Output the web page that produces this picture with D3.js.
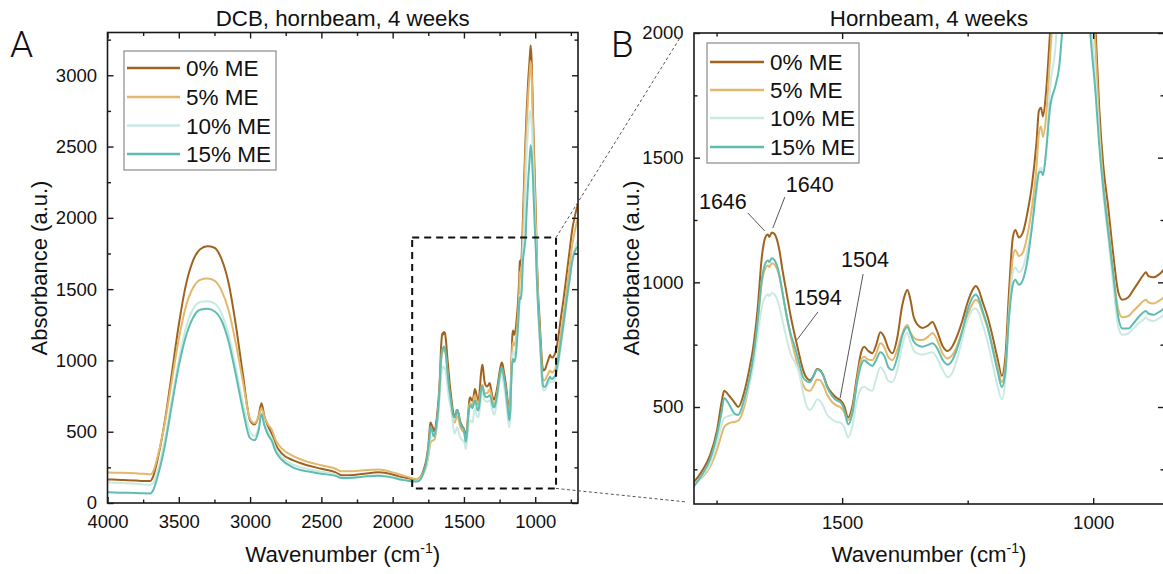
<!DOCTYPE html>
<html>
<head>
<meta charset="utf-8">
<script src="https://cdn.jsdelivr.net/npm/d3@7"></script>
<style>
  body { margin: 0; background: #fff; }
  svg { display: block; font-family: "Liberation Sans", Arial, Helvetica, sans-serif; }
</style>
</head>
<body>
<svg id="chart" width="1163" height="574"></svg>
<script>
// wavenumbers (cm-1), high region then fingerprint region
const wavenumber = [
  4000, 3900, 3800, 3750, 3700, 3680, 3650, 3600, 3550, 3500,
  3450, 3400, 3350, 3300, 3250, 3200, 3150, 3100, 3050, 3000,
  2970, 2940, 2920, 2900, 2870, 2850, 2820, 2780, 2700, 2600,
  2500, 2400, 2360, 2300, 2200, 2100, 2000, 1950, 1900, 1850, 1820,
  1795, 1780, 1763, 1749, 1740, 1735, 1725, 1715, 1707, 1695,
  1685, 1677, 1668, 1660, 1652, 1648, 1645, 1640, 1635, 1626,
  1618, 1610, 1602, 1594, 1586, 1578, 1570, 1564, 1557, 1550,
  1544, 1538, 1530, 1520, 1510, 1504, 1496, 1488, 1480, 1470,
  1462, 1456, 1448, 1440, 1432, 1424, 1416, 1408, 1400, 1390,
  1381, 1375, 1370, 1364, 1358, 1350, 1340, 1330, 1320, 1312,
  1300, 1290, 1280, 1270, 1260, 1250, 1240, 1234, 1228, 1220,
  1210, 1200, 1190, 1182, 1175, 1168, 1160, 1155, 1148, 1140,
  1130, 1122, 1113, 1108, 1104, 1100, 1094, 1086, 1075, 1068,
  1060, 1050, 1040, 1032, 1025, 1015, 1005, 995, 988, 980,
  970, 960, 950, 942, 930, 920, 910, 900, 895, 890,
  880, 870, 860, 840, 820, 800, 780, 760, 740, 720,
  700
];

const me0 = [
  165, 162, 158, 155, 155, 185, 300, 560, 900, 1250,
  1530, 1700, 1780, 1800, 1790, 1710, 1540, 1250, 900, 580,
  550, 610, 700, 610, 530, 490, 410, 350, 300, 265,
  240, 215, 195, 195, 205, 215, 200, 185, 175, 165, 170,
  200, 240, 307, 408, 520, 565, 545, 520, 500, 560,
  650, 740, 900, 1100, 1185, 1192, 1182, 1200, 1195, 1140,
  1040, 950, 860, 785, 715, 650, 615, 608, 625, 652,
  648, 630, 585, 555, 535, 528, 505, 458, 500, 630,
  720, 742, 725, 716, 750, 800, 780, 735, 716, 780,
  900, 950, 969, 930, 865, 830, 817, 825, 841, 810,
  745, 725, 745, 790, 850, 920, 970, 985, 970, 920,
  860, 780, 690, 625, 700, 950, 1180, 1210, 1180, 1200,
  1290, 1390, 1560, 1690, 1700, 1665, 1760, 2000, 2350, 2550,
  2750, 2950, 3100, 3210, 3100, 2700, 2350, 2000, 1700, 1470,
  1300, 1110, 960, 930, 940, 970, 1000, 1030, 1040, 1025,
  1020, 1030, 1050, 1150, 1300, 1440, 1600, 1760, 1920, 2020,
  2100
];

const me5 = [
  214, 212, 208, 205, 200, 220, 320, 550, 850, 1150,
  1380, 1510, 1565, 1575, 1560, 1490, 1350, 1120, 850, 590,
  560, 605, 665, 605, 545, 520, 440, 385, 330, 290,
  265, 240, 222, 222, 230, 235, 215, 200, 185, 170, 168,
  195, 215, 260, 330, 390, 420, 435, 440, 445, 500,
  590, 680, 840, 1000, 1060, 1068, 1062, 1077, 1072, 1030,
  950, 860, 780, 710, 645, 590, 568, 565, 585, 610,
  608, 590, 550, 520, 505, 500, 480, 448, 480, 610,
  690, 702, 690, 688, 715, 756, 740, 700, 688, 730,
  790, 820, 829, 800, 780, 770, 769, 780, 797, 775,
  715, 695, 710, 750, 810, 870, 915, 930, 920, 875,
  815, 740, 660, 600, 660, 880, 1100, 1130, 1105, 1120,
  1200, 1300, 1460, 1600, 1625, 1583, 1660, 1900, 2250, 2450,
  2650, 2850, 3000, 3100, 3000, 2620, 2260, 1930, 1630, 1400,
  1230, 1040, 890, 860, 865, 885, 905, 925, 930, 920,
  915, 925, 940, 1040, 1190, 1330, 1490, 1650, 1810, 1920,
  2000
];

const me10 = [
  145, 140, 135, 130, 128, 140, 220, 430, 720, 1000,
  1230, 1360, 1410, 1415, 1400, 1330, 1180, 950, 700, 500,
  470, 530, 620, 560, 490, 460, 380, 325, 270, 240,
  220, 200, 180, 180, 188, 195, 182, 170, 160, 150, 155,
  185, 220, 270, 360, 430, 455, 465, 470, 470, 520,
  590, 660, 790, 900, 945, 952, 945, 957, 952, 910,
  840, 770, 710, 680, 640, 560, 500, 488, 505, 530,
  525, 505, 470, 450, 440, 438, 420, 378, 420, 530,
  575, 581, 570, 565, 615, 660, 640, 605, 600, 650,
  740, 785, 797, 760, 730, 715, 710, 715, 720, 700,
  650, 620, 640, 700, 780, 850, 890, 895, 880, 830,
  760, 670, 580, 530, 610, 850, 1040, 1060, 1040, 1060,
  1140, 1230, 1360, 1450, 1460, 1440, 1520, 1780, 1950, 2200,
  2450, 2620, 2730, 2750, 2650, 2400, 2080, 1800, 1580, 1360,
  1180, 990, 820, 790, 795, 815, 835, 850, 860, 850,
  845, 855, 870, 960, 1100, 1240, 1400, 1550, 1700, 1790,
  1850
];

const me15 = [
  75, 72, 70, 68, 67, 90, 180, 390, 680, 960,
  1170, 1300, 1355, 1362, 1345, 1280, 1130, 900, 650, 455,
  440, 510, 625, 545, 470, 440, 360, 305, 250, 222,
  205, 190, 175, 175, 185, 192, 178, 165, 158, 150, 152,
  183, 225, 290, 390, 480, 536, 510, 475, 468, 530,
  610, 700, 850, 1010, 1080, 1088, 1082, 1097, 1090, 1040,
  950, 860, 790, 740, 680, 620, 603, 600, 625, 650,
  645, 628, 580, 545, 525, 520, 490, 430, 470, 600,
  670, 688, 675, 665, 690, 720, 705, 660, 648, 700,
  780, 812, 821, 795, 765, 748, 742, 748, 756, 740,
  690, 670, 690, 740, 810, 890, 940, 951, 935, 885,
  820, 730, 640, 580, 640, 850, 990, 1010, 990, 1010,
  1100, 1220, 1380, 1440, 1445, 1430, 1520, 1700, 1790, 1860,
  2050, 2250, 2400, 2510, 2450, 2250, 1980, 1750, 1550, 1380,
  1200, 1030, 860, 815, 815, 835, 860, 880, 885, 875,
  870, 880, 895, 990, 1130, 1270, 1420, 1560, 1700, 1770,
  1800
];

const seriesNames = ["0% ME", "5% ME", "10% ME", "15% ME"];
const seriesValues = [me0, me5, me10, me15];
const seriesColors = ["#a0631f", "#e1b86c", "#cbe9e3", "#5fbcb1"];

const xMajorA = [4000, 3500, 3000, 2500, 2000, 1500, 1000];
const xMinorA = [3750, 3250, 2750, 2250, 1750, 1250, 750];
const yMajorA = [0, 500, 1000, 1500, 2000, 2500, 3000];
const yMinorA = [250, 750, 1250, 1750, 2250, 2750, 3250];
const xMajorB = [1500, 1000];
const xMinorB = [1750, 1250];
const yMajorB = [500, 1000, 1500, 2000];
const yMinorB = [250, 750, 1250, 1750];

// zoom box drawn in panel A (wavenumber / absorbance)
const zoomBox = { x0: 1863, x1: 854, y0: 102, y1: 1862 };

const annotations = [
  { label: "1646", wn: 1654, a: 1206, lx: -17, ly: -18, tx: -18, ty: -22, anchor: "end" },
  { label: "1640", wn: 1638, a: 1218, lx: 12, ly: -31, tx: 13, ty: -36, anchor: "start" },
  { label: "1594", wn: 1590, a: 769, lx: 21, ly: -28, tx: -3, ty: -35, anchor: "start" },
  { label: "1504", wn: 1504, a: 536, lx: 23, ly: -124, tx: 1, ty: -131, anchor: "start" }
];

const svg = d3.select("#chart");

const xA = d3.scaleLinear().domain([4000, 700]).range([107.5, 578]);
const yA = d3.scaleLinear().domain([0, 3300]).range([503, 32.5]);
const xB = d3.scaleLinear().domain([1795, 859]).range([694, 1164]);
const yB = d3.scaleLinear().domain([111, 2000]).range([504, 33]);

function drawPanel(id, x, y, ticks, title) {
  const g = svg.append("g").attr("class", "panel-" + id);
  const [x0, x1] = x.range();
  const [y0, y1] = y.range();

  g.append("clipPath").attr("id", "clip-" + id)
    .append("rect")
    .attr("x", x0).attr("y", y1)
    .attr("width", x1 - x0).attr("height", y0 - y1);

  const curves = g.append("g").attr("clip-path", `url(#clip-${id})`);
  seriesValues.forEach((vals, i) => {
    const line = d3.line()
      .x((d, j) => x(wavenumber[j]))
      .y((d) => y(d))
      .curve(d3.curveMonotoneX);
    curves.append("path")
      .attr("d", line(vals))
      .attr("fill", "none")
      .attr("stroke", seriesColors[i])
      .attr("stroke-width", 2)
      .attr("stroke-linejoin", "round");
  });

  // axes, ticks pointing inward
  const axes = [
    { ax: d3.axisBottom(x), tr: `translate(0,${y0})`, maj: ticks.xMaj, min: ticks.xMin, label: true, pad: 12 },
    { ax: d3.axisTop(x), tr: `translate(0,${y1})`, maj: ticks.xMaj, min: ticks.xMin, label: false, pad: 0 },
    { ax: d3.axisLeft(y), tr: `translate(${x0},0)`, maj: ticks.yMaj, min: ticks.yMin, label: true, pad: 10.5 },
    { ax: d3.axisRight(y), tr: `translate(${x1},0)`, maj: ticks.yMaj, min: ticks.yMin, label: false, pad: 0 }
  ];
  axes.forEach((a) => {
    const major = g.append("g").attr("transform", a.tr)
      .call(a.ax.tickValues(a.maj).tickSize(-6).tickSizeOuter(0)
        .tickPadding(a.pad)
        .tickFormat(a.label ? d3.format("d") : ""));
    major.attr("font-size", 18.5).attr("font-family", null);
    major.select(".domain").remove();
    major.selectAll("line").attr("stroke", "#1a1a1a").attr("stroke-width", 1.4);
    major.selectAll("text").attr("fill", "#111");
    const minor = g.append("g").attr("transform", a.tr)
      .call(a.ax.tickValues(a.min).tickSize(-3.5).tickFormat(""));
    minor.select(".domain").remove();
    minor.selectAll("line").attr("stroke", "#1a1a1a").attr("stroke-width", 1.4);
  });

  g.append("rect")
    .attr("x", x0).attr("y", y1)
    .attr("width", x1 - x0).attr("height", y0 - y1)
    .attr("fill", "none")
    .attr("stroke", "#1a1a1a")
    .attr("stroke-width", 1.6);

  g.append("text")
    .attr("x", (x0 + x1) / 2).attr("y", 26)
    .attr("text-anchor", "middle")
    .attr("font-size", 22.3)
    .attr("fill", "#111")
    .text(title);

  const xl = g.append("text")
    .attr("x", (x0 + x1) / 2).attr("y", 562)
    .attr("text-anchor", "middle")
    .attr("font-size", 22.3)
    .attr("fill", "#111");
  xl.append("tspan").text("Wavenumber (cm");
  xl.append("tspan").attr("font-size", 14).attr("dy", -9).text("-1");
  xl.append("tspan").attr("dy", 9).text(")");

  return g;
}

const gA = drawPanel("A", xA, yA,
  { xMaj: xMajorA, xMin: xMinorA, yMaj: yMajorA, yMin: yMinorA },
  "DCB, hornbeam, 4 weeks");
const gB = drawPanel("B", xB, yB,
  { xMaj: xMajorB, xMin: xMinorB, yMaj: yMajorB, yMin: yMinorB },
  "Hornbeam, 4 weeks");

// y axis labels
[[47, gA], [639, gB]].forEach(([xp, g]) => {
  g.append("text")
    .attr("transform", `translate(${xp},268) rotate(-90)`)
    .attr("text-anchor", "middle")
    .attr("font-size", 22)
    .attr("fill", "#111")
    .text("Absorbance (a.u.)");
});

// panel letters
svg.append("text").attr("x", 10).attr("y", 57)
  .attr("font-size", 37).attr("font-family", "Roboto, sans-serif").attr("font-weight", 300)
  .attr("fill", "#111").text("A");
svg.append("text").attr("x", 611).attr("y", 57)
  .attr("font-size", 37).attr("font-family", "Roboto, sans-serif").attr("font-weight", 300)
  .attr("fill", "#111").text("B");

// legends
function drawLegend(g, bx, by, bw, bh, lx0, lx1, tx, rows) {
  g.append("rect")
    .attr("x", bx).attr("y", by).attr("width", bw).attr("height", bh)
    .attr("fill", "#fff").attr("stroke", "#8a8a8a").attr("stroke-width", 1.2);
  seriesNames.forEach((name, i) => {
    g.append("line")
      .attr("x1", lx0).attr("x2", lx1).attr("y1", rows[i]).attr("y2", rows[i])
      .attr("stroke", seriesColors[i]).attr("stroke-width", 2.5);
    g.append("text")
      .attr("x", tx).attr("y", rows[i]).attr("dy", "0.36em")
      .attr("font-size", 22.5).attr("fill", "#111")
      .text(name);
  });
}
drawLegend(gA, 124, 51, 152, 119, 127, 180, 186, [68, 97, 125.5, 154]);
drawLegend(gB, 707, 43, 152, 120, 710, 764, 770, [62, 90, 118, 147]);

// zoom box in A
gA.append("rect")
  .attr("x", xA(zoomBox.x0)).attr("y", yA(zoomBox.y1))
  .attr("width", xA(zoomBox.x1) - xA(zoomBox.x0))
  .attr("height", yA(zoomBox.y0) - yA(zoomBox.y1))
  .attr("fill", "none").attr("stroke", "#111")
  .attr("stroke-width", 2).attr("stroke-dasharray", "7,5");

// connector lines from zoom box to panel B
const conn = svg.append("g").attr("stroke", "#555").attr("stroke-width", 1)
  .attr("stroke-dasharray", "3,2.5");
conn.append("line")
  .attr("x1", xA(zoomBox.x1)).attr("y1", yA(zoomBox.y1))
  .attr("x2", xB.range()[0] - 11).attr("y2", yB.range()[1]);
conn.append("line")
  .attr("x1", xA(zoomBox.x1)).attr("y1", yA(zoomBox.y0))
  .attr("x2", xB.range()[0] - 7).attr("y2", yB.range()[0] - 2);

// peak annotations in B
annotations.forEach((d) => {
  const px = xB(d.wn), py = yB(d.a);
  gB.append("line")
    .attr("x1", px + d.lx).attr("y1", py + d.ly)
    .attr("x2", px).attr("y2", py)
    .attr("stroke", "#444").attr("stroke-width", 0.9);
  gB.append("text")
    .attr("x", px + d.tx).attr("y", py + d.ty)
    .attr("text-anchor", d.anchor)
    .attr("font-size", 21.5).attr("fill", "#111")
    .text(d.label);
});
</script>
</body>
</html>
